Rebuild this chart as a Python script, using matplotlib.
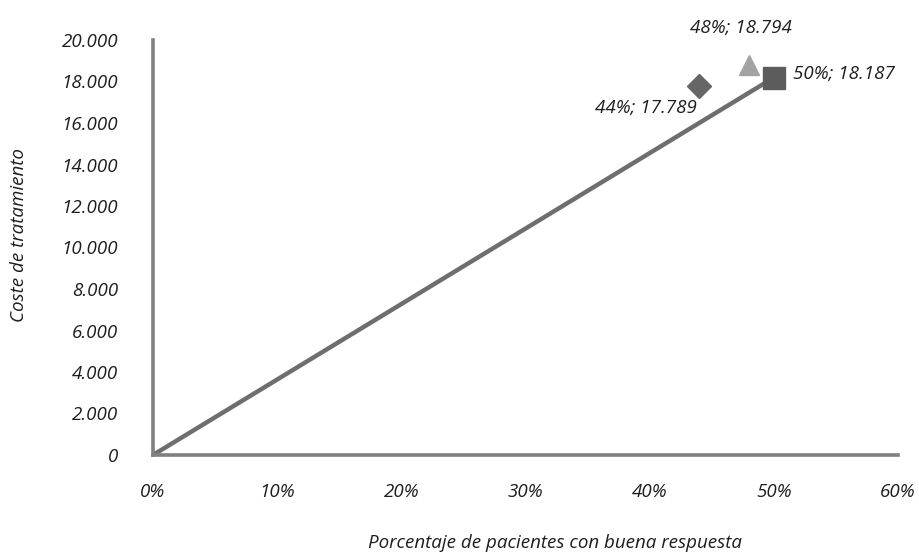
import matplotlib
matplotlib.use('Agg')
import matplotlib.pyplot as plt
from matplotlib.ticker import FuncFormatter

# effectiveness (share of good responders) vs treatment cost
labels = ['44%; 17.789', '48%; 18.794', '50%; 18.187']
response = [0.44, 0.48, 0.50]
cost = [17789, 18794, 18187]
markers = ['D', '^', 's']
colors = ['#666666', '#a3a3a3', '#5c5c5c']
sizes = [12, 15, 16]

# reference line from the origin to the dominant option
line_x = [0.0, response[2]]
line_y = [0.0, cost[2]]

x_ticks = [0.0, 0.1, 0.2, 0.3, 0.4, 0.5, 0.6]
y_ticks = list(range(0, 20001, 2000))

plt.rcParams['font.family'] = ['Open Sans', 'DejaVu Sans']
plt.rcParams['font.style'] = 'italic'
fs = 13.5

fig = plt.figure(figsize=(9.19, 5.55), dpi=100)
ax = fig.add_axes([153 / 919, 1 - 455 / 555, (898 - 153) / 919, (455 - 40) / 555])

ax.plot(line_x, line_y, color='#6e6e6e', lw=3.2, solid_capstyle='butt', zorder=2)
for x, y, m, c, s in zip(response, cost, markers, colors, sizes):
    ax.plot(x, y, marker=m, color=c, markersize=s, linestyle='none', zorder=3)

txt = dict(fontsize=fs, color='#1e1e1e')
ax.annotate(labels[0], (response[0], cost[0]), xytext=(-2, -9), textcoords='offset points',
            ha='right', va='top', **txt)
ax.annotate(labels[1], (response[1], cost[1]), xytext=(-6, 20), textcoords='offset points',
            ha='center', va='bottom', **txt)
ax.annotate(labels[2], (response[2], cost[2]), xytext=(14, 3), textcoords='offset points',
            ha='left', va='center', **txt)

ax.set_xlim(0, 0.6)
ax.set_ylim(0, 20000)
ax.set_xticks(x_ticks)
ax.set_yticks(y_ticks)
ax.xaxis.set_major_formatter(FuncFormatter(lambda v, p: f'{v * 100:.0f}%'))
ax.yaxis.set_major_formatter(FuncFormatter(lambda v, p: f'{int(v):,}'.replace(',', '.')))
ax.tick_params(length=0, labelsize=fs, labelcolor='#1e1e1e')
ax.tick_params(axis='x', pad=20)
ax.tick_params(axis='y', pad=25)

for side in ['top', 'right']:
    ax.spines[side].set_visible(False)
for side in ['left', 'bottom']:
    ax.spines[side].set_color('#808080')
    ax.spines[side].set_linewidth(2.6)

ax.set_xlabel('Porcentaje de pacientes con buena respuesta', fontsize=fs, color='#1e1e1e')
ax.xaxis.set_label_coords(0.54, -0.19)
ax.set_ylabel('Coste de tratamiento', fontsize=fs, color='#1e1e1e')
ax.yaxis.set_label_coords(-0.168, 0.53)

fig.savefig('out.png', dpi=100)
